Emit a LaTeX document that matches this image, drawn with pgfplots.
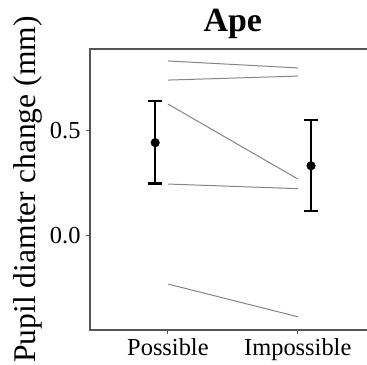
\documentclass[border=0pt]{standalone}
\usepackage{pgfplots}
\pgfplotsset{compat=1.18}
\usepackage{fontspec}
\setmainfont{Liberation Serif}

\definecolor{framegray}{HTML}{555555}
\definecolor{subjgray}{HTML}{858585}

% individual subjects: condition (1 = Possible, 2 = Impossible), value
\pgfplotstableread{
x y
1 0.832
2 0.799
}\subjA
\pgfplotstableread{
x y
1 0.741
2 0.760
}\subjB
\pgfplotstableread{
x y
1 0.627
2 0.270
}\subjC
\pgfplotstableread{
x y
1 0.246
2 0.224
}\subjD
\pgfplotstableread{
x y
1 -0.230
2 -0.386
}\subjE
% group means with asymmetric error bars
\pgfplotstableread{
x y eplus eminus
0.902 0.443 0.198 0.195
2.102 0.333 0.219 0.216
}\means

\begin{document}
\begin{tikzpicture}
\begin{axis}[
  name=ax,
  scale only axis,
  width=285.7bp, height=281bp,
  xmin=0.4, xmax=2.6,
  ymin=-0.449, ymax=0.889,
  xtick={1,2}, xticklabels={Possible,Impossible},
  ytick={0,0.5},
  yticklabel style={/pgf/number format/fixed, /pgf/number format/fixed zerofill,
    /pgf/number format/precision=1, /pgf/number format/assume math mode=true, xshift=-2bp},
  tick align=outside,
  major tick length=4bp,
  tick style={framegray, line width=1bp},
  xtick pos=bottom, ytick pos=left,
  axis line style={framegray, line width=1.1bp},
  ticklabel style={font=\fontsize{24.5}{28}\selectfont, black},
  xticklabel style={yshift=-1bp},
  title={\textbf{Ape}},
  title style={font=\fontsize{34}{38}\selectfont, at={(axis description cs:0.5,1)}, anchor=base, yshift=12bp, inner sep=0pt},
  ylabel={Pupil diamter change (mm)},
  ylabel style={font=\fontsize{31.7}{35}\selectfont, at={(axis description cs:0,0.5)}, anchor=south, yshift=47bp, inner sep=0pt},
  clip=false,
]
\addplot[subjgray, line width=1bp] table[x=x,y=y] {\subjA};
\addplot[subjgray, line width=1bp] table[x=x,y=y] {\subjB};
\addplot[subjgray, line width=1bp] table[x=x,y=y] {\subjC};
\addplot[subjgray, line width=1bp] table[x=x,y=y] {\subjD};
\addplot[subjgray, line width=1bp] table[x=x,y=y] {\subjE};
\addplot[black, only marks, mark=*, mark size=4.3bp,
  error bars/.cd, y dir=both, y explicit,
  error bar style={line width=2.5bp, black},
  error mark options={rotate=90, mark size=6.7bp, line width=2.5bp, black}]
  table[x=x, y=y, y error plus=eplus, y error minus=eminus] {\means};
\end{axis}
\pgfresetboundingbox
\path[use as bounding box] ([xshift=-90bp,yshift=-35bp]ax.south west) rectangle ([xshift=277bp,yshift=49bp]ax.north west);
\end{tikzpicture}
\end{document}
